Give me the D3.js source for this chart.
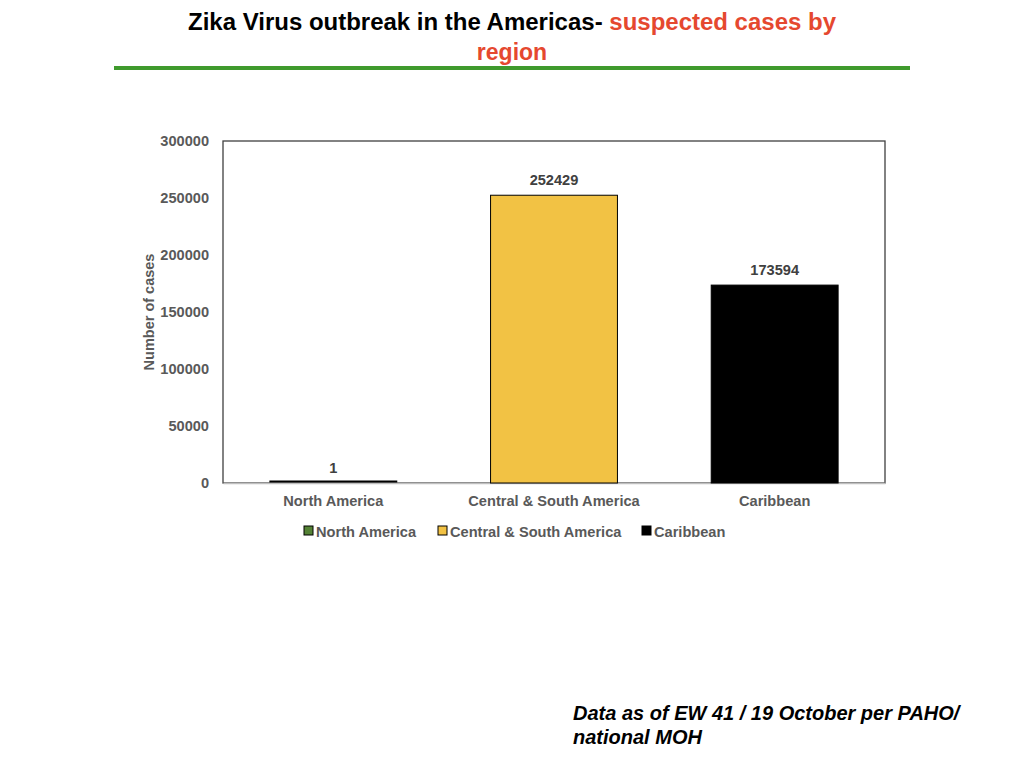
<!DOCTYPE html>
<html>
<head>
<meta charset="utf-8">
<script src="https://cdn.jsdelivr.net/npm/d3@7"></script>
<style>
  body { margin: 0; background: #fff; }
  svg { display: block; font-family: "Liberation Sans", Arial, sans-serif; }
  .tick text { fill: #595959; font-weight: bold; font-size: 14.6px; }
</style>
</head>
<body>
<div id="chart"></div>
<script>
var regions = ["North America", "Central & South America", "Caribbean"],
    cases = [1, 252429, 173594],
    colors = ["#548235", "#f2c244", "#000000"],
    yTicks = [0, 50000, 100000, 150000, 200000, 250000, 300000];

var width = 1024, height = 768;
var plot = { left: 223, right: 885, top: 141, bottom: 483 };

var svg = d3.select("#chart").append("svg")
    .attr("width", width)
    .attr("height", height);

// title, two colours on first line
var t1 = svg.append("text")
    .attr("x", 188).attr("y", 30)
    .attr("textLength", 648).attr("lengthAdjust", "spacingAndGlyphs")
    .style("font-family", "'Liberation Sans Narrow', 'Liberation Sans', sans-serif")
    .style("font-weight", "bold").style("font-size", "23px");
t1.append("tspan").attr("fill", "#000").text("Zika Virus outbreak in the Americas- ");
t1.append("tspan").attr("fill", "#e5482f").text("suspected cases by");

svg.append("text")
    .attr("x", 512).attr("y", 60)
    .attr("text-anchor", "middle")
    .attr("fill", "#e5482f")
    .style("font-family", "'Liberation Sans Narrow', 'Liberation Sans', sans-serif")
    .style("font-weight", "bold").style("font-size", "23px")
    .text("region");

svg.append("line")
    .attr("x1", 114).attr("x2", 910)
    .attr("y1", 68).attr("y2", 68)
    .attr("stroke", "#3f9a2d").attr("stroke-width", 4);

var x = d3.scaleBand()
    .domain(regions)
    .range([plot.left, plot.right])
    .paddingInner(0.425)
    .paddingOuter(0.2125);

var y = d3.scaleLinear()
    .domain([0, 300000])
    .range([plot.bottom, plot.top]);

// plot frame
svg.append("rect")
    .attr("x", plot.left).attr("y", plot.top)
    .attr("width", plot.right - plot.left).attr("height", plot.bottom - plot.top)
    .attr("fill", "none").attr("stroke", "#404040").attr("stroke-width", 1.3);

var yAxis = svg.append("g")
    .attr("transform", "translate(" + plot.left + ",0)")
    .call(d3.axisLeft(y).tickValues(yTicks).tickSize(0).tickPadding(14).tickFormat(d3.format("d")));
yAxis.select(".domain").remove();

var xAxis = svg.append("g")
    .attr("transform", "translate(0," + plot.bottom + ")")
    .call(d3.axisBottom(x).tickSize(0).tickPadding(13));
xAxis.select(".domain").attr("stroke", "#bfbfbf").attr("stroke-width", 1.5);

svg.append("text")
    .attr("transform", "translate(154,312) rotate(-90)")
    .attr("text-anchor", "middle")
    .attr("fill", "#595959")
    .style("font-weight", "bold").style("font-size", "14.5px")
    .text("Number of cases");

// bars
svg.selectAll(".bar")
    .data(regions)
    .enter().append("rect")
    .attr("class", "bar")
    .attr("x", function(d) { return x(d); })
    .attr("width", x.bandwidth())
    .attr("y", function(d, i) { return Math.min(y(cases[i]), plot.bottom - 2); })
    .attr("height", function(d, i) { return Math.max(plot.bottom - y(cases[i]), 1); })
    .attr("fill", function(d, i) { return colors[i]; })
    .attr("stroke", "#000").attr("stroke-width", 1);

svg.selectAll(".val")
    .data(regions)
    .enter().append("text")
    .attr("class", "val")
    .attr("x", function(d) { return x(d) + x.bandwidth() / 2; })
    .attr("y", function(d, i) { return y(cases[i]) - 10; })
    .attr("text-anchor", "middle")
    .attr("fill", "#404040")
    .style("font-weight", "bold").style("font-size", "14.6px")
    .text(function(d, i) { return cases[i]; });

// legend
var legendX = [304, 438, 642];
var legend = svg.selectAll(".legend")
    .data(regions)
    .enter().append("g")
    .attr("class", "legend")
    .attr("transform", function(d, i) { return "translate(" + legendX[i] + ",526)"; });

legend.append("rect")
    .attr("width", 9).attr("height", 9)
    .attr("fill", function(d, i) { return colors[i]; })
    .attr("stroke", "#000").attr("stroke-width", 1);

legend.append("text")
    .attr("x", 12).attr("y", 10.5)
    .attr("fill", "#595959")
    .style("font-weight", "bold").style("font-size", "14.6px")
    .text(function(d) { return d; });

// footnote
var note = svg.append("text")
    .attr("x", 573).attr("y", 720)
    .style("font-weight", "bold").style("font-style", "italic").style("font-size", "20px")
    .attr("fill", "#000");
note.append("tspan").attr("x", 573).text("Data as of EW 41 / 19 October per PAHO/");
note.append("tspan").attr("x", 573).attr("dy", 24).text("national MOH");
</script>
</body>
</html>
